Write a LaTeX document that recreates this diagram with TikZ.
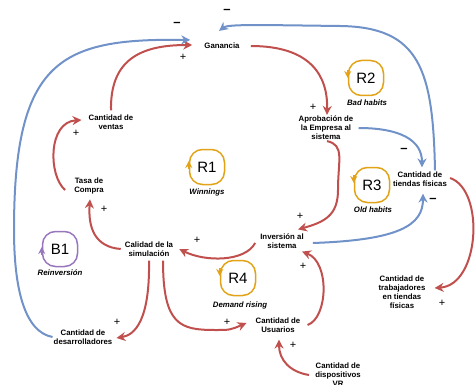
\documentclass[tikz,border=0pt]{standalone}
\usepackage{fontspec}
\setmainfont{Liberation Sans}
\usetikzlibrary{arrows.meta,calc}
\definecolor{rojo}{RGB}{192,80,77}
\definecolor{azul}{RGB}{112,146,200}
\definecolor{ambar}{RGB}{226,163,24}
\definecolor{lila}{RGB}{152,118,190}
\begin{document}
\begin{tikzpicture}[x=1pt, y=-1pt, >={Stealth[length=9pt,width=9pt]},
    var/.style={font=\fontsize{7.8}{9}\selectfont\bfseries, align=center, inner sep=1pt},
    mas/.style={font=\fontsize{11}{11}\selectfont, inner sep=0pt},
    menos/.style={font=\fontsize{13}{13}\selectfont\bfseries, inner sep=0pt},
    refuerzo/.style={draw=ambar, line width=1.5pt, rounded corners=13pt, minimum size=35pt, font=\fontsize{15}{15}\selectfont},
    balance/.style={refuerzo, draw=lila},
    lema/.style={font=\fontsize{7.8}{9}\selectfont\bfseries\itshape, inner sep=1pt},
    sube/.style={-{Stealth[length=7pt,width=7pt]}, line width=1.5pt},
    enlacemas/.style={->, line width=2pt, rojo},
    enlacemenos/.style={->, line width=2pt, azul}]
    \useasboundingbox (0,0) rectangle (476,385);

    % 1. Variables
    \node[var] (gan) at (222,46) {Ganancia};
    \node[var] (ventas) at (111,122) {Cantidad de\\ventas};
    \node[var] (tasa) at (89,186) {Tasa de\\Compra};
    \node[var] (calidad) at (149,249) {Calidad de la\\simulación};
    \node[var] (desarr) at (83,337) {Cantidad de\\desarrolladores};
    \node[var] (aprob) at (326,128) {Aprobación de\\la Empresa al\\sistema};
    \node[var] (tiendas) at (420,179) {Cantidad de\\tiendas físicas};
    \node[var] (inver) at (282,241) {Inversión al\\sistema};
    \node[var] (usuarios) at (278,325) {Cantidad de\\Usuarios};
    \node[var] (trabaj) at (402,292) {Cantidad de\\trabajadores\\en tiendas\\físicas};
    \node[var] (dispos) at (338,375) {Cantidad de\\dispositivos\\VR};

    % 2. Lazos
    \node[refuerzo] (r1) at (207,167) {R1};
    \node[lema] (r1t) at (207,192) {Winnings};
    \node[refuerzo] (r2) at (366,78) {R2};
    \node[lema] (r2t) at (367,103) {Bad habits};
    \node[refuerzo] (r3) at (372,185) {R3};
    \node[lema] (r3t) at (373,210) {Old habits};
    \node[refuerzo] (r4) at (238,278) {R4};
    \node[lema] (r4t) at (240,305) {Demand rising};
    \node[balance] (b1) at (60,249) {B1};
    \node[lema] (b1t) at (60,273) {Reinversión};
    \draw[sube, ambar] ($(r1.west)+(0,2)$) -- ($(r1.west)+(0,-6)$);
    \draw[sube, ambar] ($(r2.west)+(0,-8)$) -- ($(r2.west)+(0,0)$);
    \draw[sube, ambar] ($(r3.west)+(0,-10)$) -- ($(r3.west)+(0,-2)$);
    \draw[sube, ambar] ($(r4.west)+(0,-10)$) -- ($(r4.west)+(0,-2)$);
    \draw[sube, lila] ($(b1.west)+(0,6)$) -- ($(b1.west)+(0,-2)$);

    % 3. Enlaces positivos
    \draw[enlacemas] ($(ventas.north)+(0,-3)$) .. controls (110,60) and (140,45) .. ($(gan.west)+(-11,-1)$);
    \draw[enlacemas] ($(gan.east)+(10,0)$) .. controls (310,46) and (328,75) .. ($(aprob.north)+(1,0)$);
    \draw[enlacemas] ($(aprob.south)+(1,0)$) .. controls (345,145) and (338,160) .. (338,190)
        .. controls (338,215) and (325,222) .. ($(inver.north)+(16,-3)$);
    \draw[enlacemas] ($(inver.west)+(-4,2)$) .. controls (245,262) and (205,262) .. ($(calidad.east)+(5,0)$);
    \draw[enlacemas] ($(calidad.west)+(-3,0)$) .. controls (95,247) and (88,228) .. ($(tasa.south)+(1,4)$);
    \draw[enlacemas] ($(tasa.west)+(-8,4)$) .. controls (48,175) and (48,122) .. ($(ventas.west)+(-6,-2)$);
    \draw[enlacemas] ($(calidad.south)+(0,3)$) .. controls (150,320) and (135,335) .. ($(desarr.east)+(3,1)$);
    \draw[enlacemas] ($(calidad.south)+(14,3)$) .. controls (163,325) and (180,330) .. (215,330)
        .. controls (230,330) .. ($(usuarios.west)+(-8,-2)$);
    \draw[enlacemas] ($(usuarios.east)+(6,0)$) .. controls (328,318) and (330,262) .. ($(inver.south)+(20,2)$);
    \draw[enlacemas] ($(tiendas.east)+(2,-1)$) .. controls (485,190) and (480,285) .. ($(trabaj.east)+(8,-4)$);
    \draw[enlacemas] ($(dispos.west)+(-5,0)$) .. controls (290,372) and (279,360) .. ($(usuarios.south)+(1,6)$);

    % 4. Enlaces negativos
    \draw[enlacemenos] (desarr.west) .. controls (25,332) and (14,290) .. (14,230)
        .. controls (14,60) and (60,38) .. ($(gan.west)+(-13,-6)$);
    \draw[enlacemenos] ($(tiendas.north)+(15,0)$) .. controls (433,70) and (420,27) .. (340,26)
        .. controls (260,25) and (228,24) .. ($(gan.north)+(-3,-11)$);
    \draw[enlacemenos] ($(aprob.east)+(4,0)$) .. controls (400,128) and (422,140) .. ($(tiendas.north)+(2,-3)$);
    \draw[enlacemenos] ($(inver.east)+(8,2)$) .. controls (400,240) and (423,225) .. ($(tiendas.south)+(3,6)$);

    % 5. Signos
    \node[menos] (m1) at (177,24) {–};
    \node[menos] (m2) at (227,11) {–};
    \node[menos] (m3) at (404,150) {–};
    \node[menos] (m4) at (433,200) {–};
    \node[mas] (p1) at (183,57) {+};
    \node[mas] (p2) at (313,107) {+};
    \node[mas] (p3) at (300,216) {+};
    \node[mas] (p4) at (197,240) {+};
    \node[mas] (p5) at (104,209) {+};
    \node[mas] (p6) at (76,133) {+};
    \node[mas] (p7) at (117,322) {+};
    \node[mas] (p8) at (227,322) {+};
    \node[mas] (p9) at (303,266) {+};
    \node[mas] (p10) at (442,303) {+};
    \node[mas] (p11) at (293,345) {+};
\end{tikzpicture}
\end{document}
